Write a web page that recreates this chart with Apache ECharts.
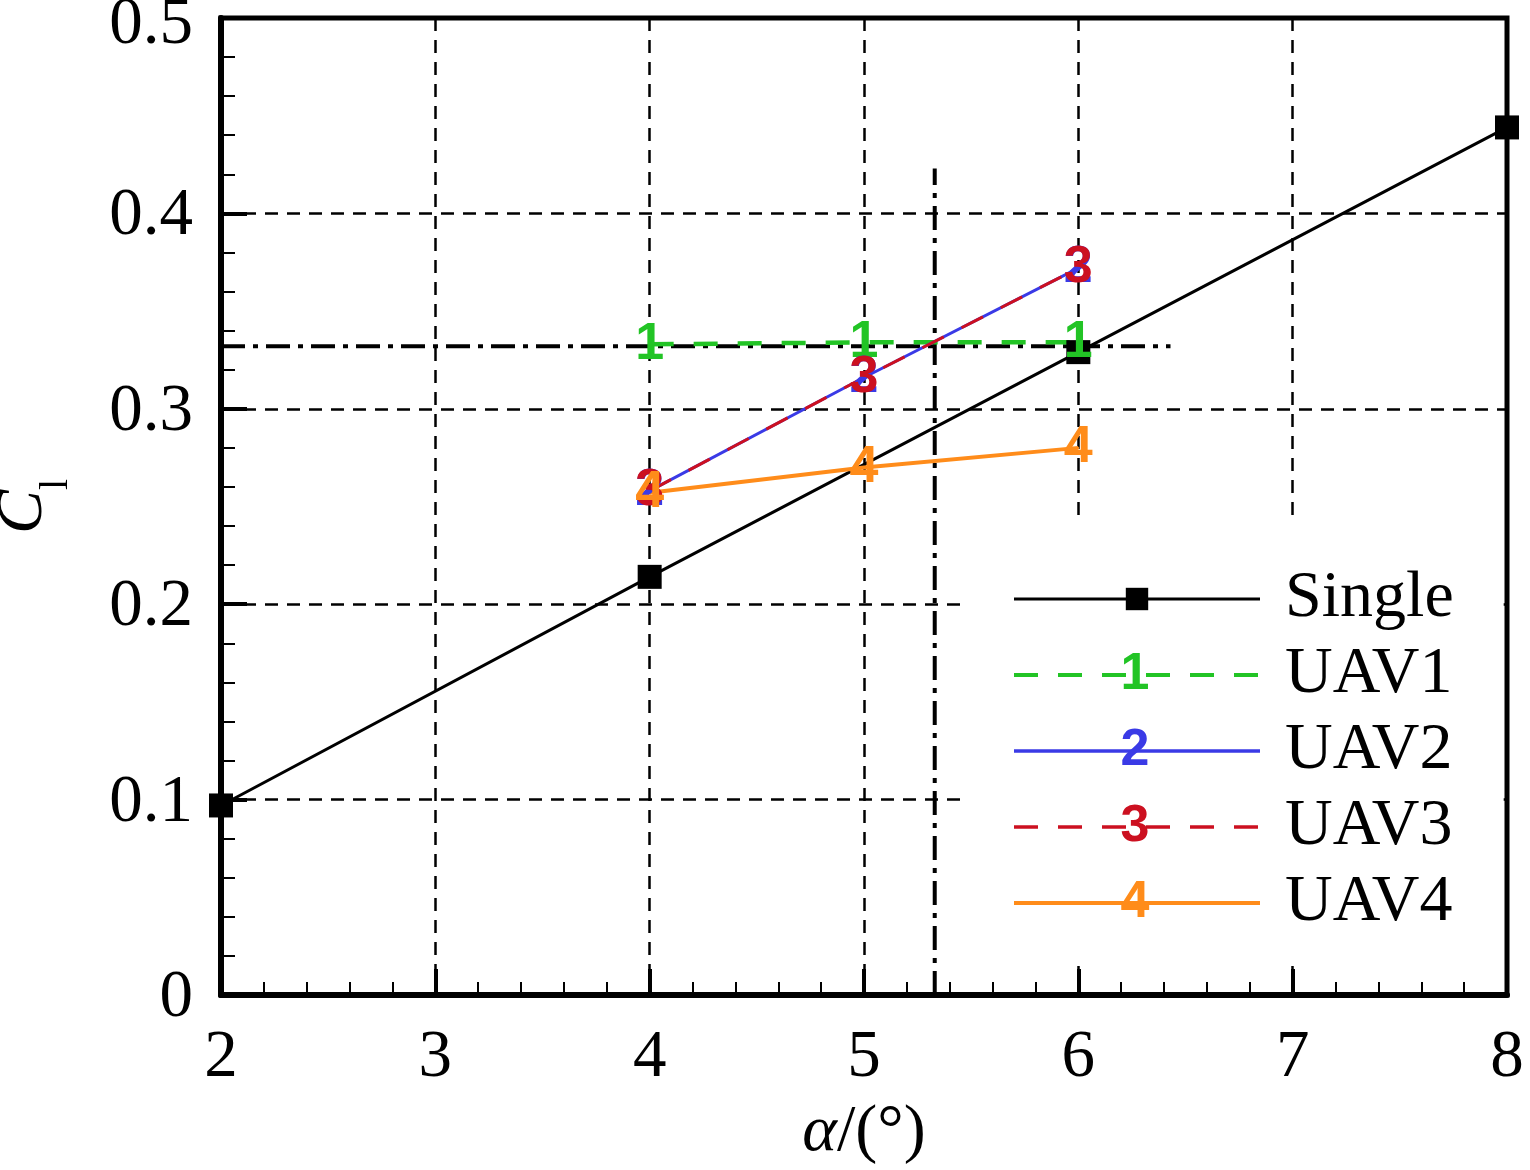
<!DOCTYPE html>
<html>
<head>
<meta charset="utf-8">
<script src="https://cdn.jsdelivr.net/npm/echarts@6/dist/echarts.min.js"></script>
<style>
  html, body { margin: 0; padding: 0; background: #fff; }
  #chart { width: 1530px; height: 1170px; }
</style>
</head>
<body>
<div id="chart"></div>
<script>
// angle of attack (deg) and lift coefficient
const singleAlpha = [2, 4, 6, 8];
const singleCl = [0.097, 0.214, 0.329, 0.444];
const uavAlpha = [4, 5, 6];
const uav1Cl = [0.333, 0.334, 0.334];
const uav2Cl = [0.258, 0.316, 0.372];
const uav3Cl = [0.258, 0.316, 0.372];
const uav4Cl = [0.257, 0.270, 0.280];
// dash-dot reference lines
const refHorizontal = [[2, 0.332], [6.43, 0.332]];
const refVertical = [[5.33, 0], [5.33, 0.423]];
const legendNames = ['Single', 'UAV1', 'UAV2', 'UAV3', 'UAV4'];
const uavDigits = ['1', '2', '3', '4'];

const SERIF = 'Liberation Serif, Times New Roman, serif';
const SANS = 'Liberation Sans, Arial, sans-serif';
const COLORS = { single: '#000000', uav1: '#22c425', uav2: '#3a3ae6', uav3: '#cc1020', uav4: '#ff8c1a' };
const uavColors = [COLORS.uav1, COLORS.uav2, COLORS.uav3, COLORS.uav4];
const legendWidths = [3, 4, 3.5, 3.5, 4];

const zip = (xs, ys) => xs.map((x, i) => [x, ys[i]]);

function uavSeries(name, values, color, digit, dashed, width) {
  return {
    name, type: 'line', data: zip(uavAlpha, values),
    symbol: 'circle', symbolSize: 2, clip: false,
    lineStyle: { color, width, type: dashed ? [24, 20] : 'solid' },
    itemStyle: { color },
    label: {
      show: true, position: 'inside', formatter: digit,
      fontFamily: SANS, fontWeight: 'bold', fontSize: 52, color
    },
    emphasis: { disabled: true }
  };
}

const chart = echarts.init(document.getElementById('chart'));

const refStyle = { color: '#000', width: 4, type: [24, 8, 5, 8] };

// legend row centres for the digit overlays
const legendTop = 523, legendPadTop = 38, rowH = 76;
const digitX = 1012 + 123;

chart.setOption({
  backgroundColor: '#fff',
  animation: false,
  grid: {
    left: 221, right: 23, top: 18, bottom: 175,
    outerBoundsMode: 'none', containLabel: false,
    show: true, borderColor: '#000', borderWidth: 5, backgroundColor: 'transparent'
  },
  legend: {
    orient: 'vertical', left: 965, top: legendTop,
    padding: [legendPadTop, 50, 25, 47],
    backgroundColor: '#fff',
    itemWidth: 246, itemHeight: 28, itemGap: 0,
    selectedMode: false,
    lineStyle: { width: 4 },
    textStyle: { fontFamily: SERIF, fontSize: 66, color: '#000', lineHeight: rowH, padding: [0, 0, 0, 20] },
    data: legendNames.map((name, i) => i === 0
      ? { name, lineStyle: { width: legendWidths[i] } }
      : { name, lineStyle: { width: legendWidths[i] }, itemStyle: { opacity: 0 } })
  },
  xAxis: {
    type: 'value', min: 2, max: 8, interval: 1,
    name: '{i|α}/(°)', nameLocation: 'middle', nameGap: 105,
    nameTextStyle: {
      fontFamily: SERIF, fontSize: 66, color: '#000',
      rich: { i: { fontFamily: SERIF, fontSize: 66, fontStyle: 'italic', color: '#000' } }
    },
    axisLine: { show: true, lineStyle: { color: '#000', width: 6 } },
    axisTick: { show: true, inside: true, length: 26, lineStyle: { color: '#000', width: 4 } },
    minorTick: { show: true, splitNumber: 5, length: 13, lineStyle: { color: '#000', width: 2 } },
    axisLabel: { fontFamily: SERIF, fontSize: 67, color: '#000', margin: 30 },
    splitLine: { show: true, lineStyle: { color: '#000', width: 2.5, type: [13, 9] } }
  },
  yAxis: {
    type: 'value', min: 0, max: 0.5, interval: 0.1,
    name: '{c|C}{s|l}', nameLocation: 'middle', nameRotate: 90, nameGap: 150,
    nameTextStyle: {
      color: '#000',
      rich: {
        c: { fontFamily: SERIF, fontSize: 66, fontStyle: 'italic', color: '#000', lineHeight: 80, verticalAlign: 'top' },
        s: { fontFamily: SERIF, fontSize: 40, color: '#000', lineHeight: 40, verticalAlign: 'top', padding: [45, 0, 0, 0] }
      }
    },
    axisLine: { show: true, lineStyle: { color: '#000', width: 6 } },
    axisTick: { show: true, inside: true, length: 26, lineStyle: { color: '#000', width: 4 } },
    minorTick: { show: true, splitNumber: 5, length: 14, lineStyle: { color: '#000', width: 2 } },
    axisLabel: {
      color: '#000', margin: 28,
      // labels sit a little below their ticks; the top one is pushed inside the page
      formatter: v => (v === 0.5 ? '{t|' + v + '}' : '{n|' + v + '}'),
      rich: {
        n: { fontFamily: SERIF, fontSize: 67, color: '#000', padding: [7, 0, 0, 0] },
        t: { fontFamily: SERIF, fontSize: 67, color: '#000', padding: [14, 0, 0, 0] }
      }
    },
    splitLine: { show: true, lineStyle: { color: '#000', width: 2.5, type: [13, 9] } }
  },
  series: [
    {
      name: 'refH', type: 'line', data: refHorizontal, symbol: 'none',
      lineStyle: refStyle, silent: true, z: 1
    },
    {
      name: 'refV', type: 'line', data: refVertical, symbol: 'none',
      lineStyle: refStyle, silent: true, z: 1
    },
    {
      name: 'Single', type: 'line', data: zip(singleAlpha, singleCl),
      symbol: 'rect', symbolSize: 24, clip: false,
      lineStyle: { color: COLORS.single, width: 3 },
      itemStyle: { color: COLORS.single },
      emphasis: { disabled: true }
    },
    uavSeries('UAV1', uav1Cl, COLORS.uav1, uavDigits[0], true, 4.5),
    uavSeries('UAV2', uav2Cl, COLORS.uav2, uavDigits[1], false, 3),
    uavSeries('UAV3', uav3Cl, COLORS.uav3, uavDigits[2], true, 3),
    uavSeries('UAV4', uav4Cl, COLORS.uav4, uavDigits[3], false, 4)
  ],
  graphic: uavDigits.map((d, i) => ({
    type: 'text', z: 100,
    x: digitX, y: legendTop + legendPadTop + rowH * (i + 1) + rowH / 2,
    style: {
      text: d, fontFamily: SANS, fontWeight: 'bold', fontSize: 52,
      fill: uavColors[i], align: 'center', verticalAlign: 'middle'
    }
  }))
});
</script>
</body>
</html>
